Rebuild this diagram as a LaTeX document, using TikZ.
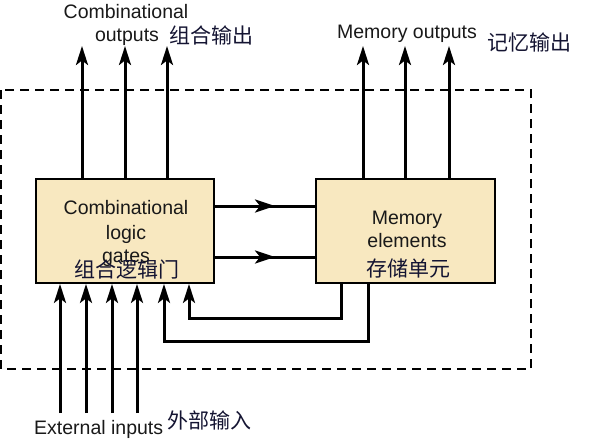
\documentclass[tikz,border=0pt]{standalone}
\usepackage{fontspec}
\setmainfont{Liberation Sans}
\newfontfamily\cjk{Noto Sans CJK SC}
\usetikzlibrary{arrows.meta,decorations.markings}
\definecolor{boxfill}{RGB}{248,232,192}
\definecolor{cjkcol}{RGB}{20,20,50}
\begin{document}
\begin{tikzpicture}[x=1pt,y=-1pt,
  wire/.style={line width=3pt},
  tip/.style={-{Stealth[length=19pt,width=12pt,inset=4.5pt]}},
  blockbox/.style={draw,line width=1.8pt,fill=boxfill,minimum width=178pt,minimum height=104pt,inner sep=0pt},
  etxt/.style={font=\fontsize{19.5}{22}\selectfont,inner sep=0pt,text=black!90},
  ctxt/.style={font=\cjk\fontsize{21}{22}\selectfont,inner sep=0pt,text=cjkcol},
  midarrow/.style={postaction={decorate},decoration={markings,mark=at position 0.6 with {\arrow{Stealth[length=20pt,width=13pt,inset=5pt]}}}}
]
\useasboundingbox (0,0) rectangle (593,439);
% dashed boundary
\draw[line width=1.2pt,dash pattern=on 9pt off 6pt] (1,90) rectangle (531,369);

% blocks
\node[blockbox] (comb) at (125,231) {};
\node[blockbox,minimum width=179pt] (mem) at (405.5,231) {};

% box texts
\node[etxt,anchor=base] (c1) at (126,214) {Combinational};
\node[etxt,anchor=base] (c2) at (126,239) {logic};
\node[etxt,anchor=base] (c3) at (126,262) {gates};
\node[ctxt,anchor=base] (c4) at (127,277) {组合逻辑门};

\node[etxt,anchor=base] (m1) at (407,224) {Memory};
\node[etxt,anchor=base] (m2) at (407,247) {elements};
\node[ctxt,anchor=base] (m3) at (408,276) {存储单元};

% coordinates for outputs
\coordinate (co1) at (82,46);
\coordinate (co2) at (125,46);
\coordinate (co3) at (167,46);
\coordinate (mo1) at (363,46);
\coordinate (mo2) at (405,46);
\coordinate (mo3) at (449,46);

\draw[wire,tip] (comb.north -| co1) -- (co1);
\draw[wire,tip] (comb.north -| co2) -- (co2);
\draw[wire,tip] (comb.north -| co3) -- (co3);
\draw[wire,tip] (mem.north -| mo1) -- (mo1);
\draw[wire,tip] (mem.north -| mo2) -- (mo2);
\draw[wire,tip] (mem.north -| mo3) -- (mo3);

% output labels
\node[etxt,anchor=base] (lco1) at (126,18) {Combinational};
\node[etxt,anchor=base] (lco2) at (127,41) {outputs};
\node[ctxt,anchor=base west] (lco3) at (169,43) {组合输出};
\node[etxt,anchor=base] (lmo1) at (407,38) {Memory outputs};
\node[ctxt,anchor=base west] (lmo2) at (487,50) {记忆输出};

% forward connections
\coordinate (h1) at (0,206);
\coordinate (h2) at (0,257);
\draw[wire,midarrow] (comb.east |- h1) -- (mem.west |- h1);
\draw[wire,midarrow] (comb.east |- h2) -- (mem.west |- h2);

% feedback
\coordinate (f1a) at (341,318);
\coordinate (f1b) at (189,318);
\coordinate (f2a) at (368,341);
\coordinate (f2b) at (164,341);
\draw[wire,tip] (mem.south -| f1a) -- (f1a) -- (f1b) -- (comb.south -| f1b);
\draw[wire,tip] (mem.south -| f2a) -- (f2a) -- (f2b) -- (comb.south -| f2b);

% external inputs
\coordinate (e1) at (60,413);
\coordinate (e2) at (86,413);
\coordinate (e3) at (112,413);
\coordinate (e4) at (137,413);
\draw[wire,tip] (e1) -- (comb.south -| e1);
\draw[wire,tip] (e2) -- (comb.south -| e2);
\draw[wire,tip] (e3) -- (comb.south -| e3);
\draw[wire,tip] (e4) -- (comb.south -| e4);

\node[etxt,anchor=base west] (lext) at (34,434) {External inputs};
\node[ctxt,anchor=base west] (lext2) at (167,428) {外部输入};
\end{tikzpicture}
\end{document}
